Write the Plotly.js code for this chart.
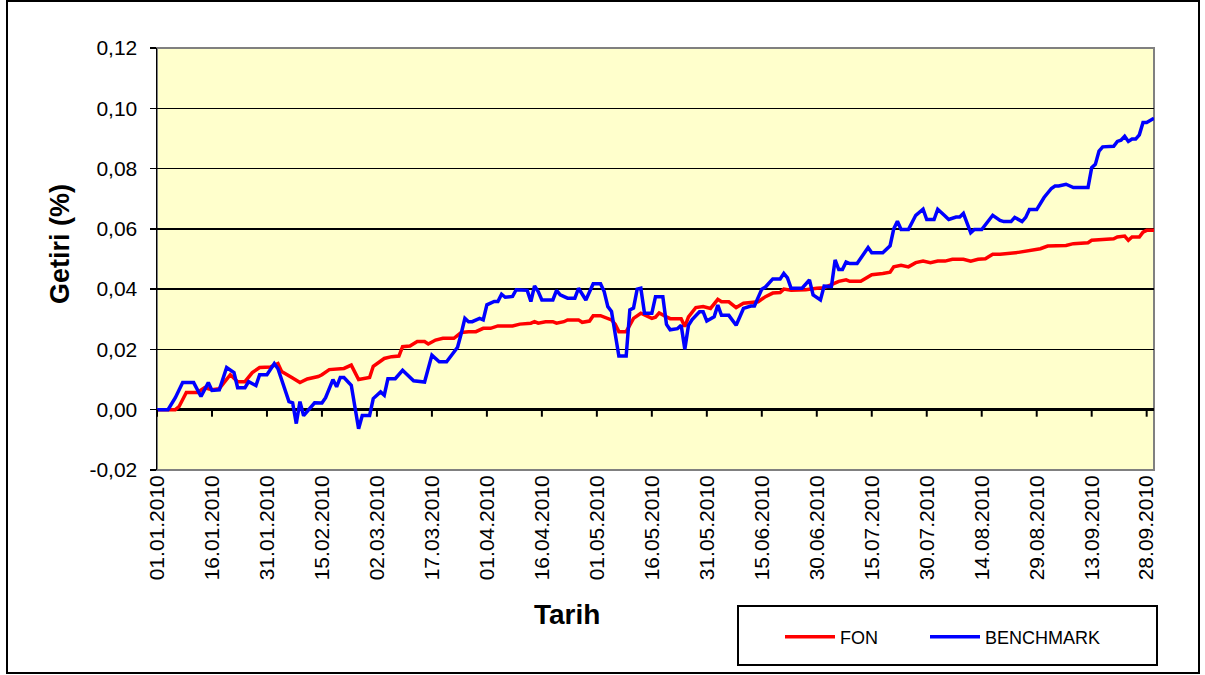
<!DOCTYPE html>
<html><head><meta charset="utf-8">
<script src="https://cdn.plot.ly/plotly-3.0.1.min.js"></script>
<style>html,body{margin:0;padding:0;background:#fff}#chart{width:1205px;height:675px}</style>
</head><body><div id="chart"></div>
<script>
const fonDates = ['2010-01-01','2010-01-06','2010-01-07','2010-01-09','2010-01-12','2010-01-14','2010-01-16','2010-01-18','2010-01-21','2010-01-23','2010-01-25','2010-01-27','2010-01-29','2010-02-01','2010-02-03','2010-02-04','2010-02-07','2010-02-09','2010-02-11','2010-02-14','2010-02-15','2010-02-17','2010-02-21','2010-02-23','2010-02-25','2010-02-28','2010-03-01','2010-03-04','2010-03-06','2010-03-08','2010-03-09','2010-03-11','2010-03-13','2010-03-15','2010-03-16','2010-03-18','2010-03-20','2010-03-23','2010-03-25','2010-03-27','2010-03-29','2010-03-31','2010-04-02','2010-04-04','2010-04-08','2010-04-10','2010-04-13','2010-04-14','2010-04-15','2010-04-17','2010-04-19','2010-04-20','2010-04-22','2010-04-23','2010-04-26','2010-04-27','2010-04-29','2010-04-30','2010-05-02','2010-05-05','2010-05-06','2010-05-07','2010-05-09','2010-05-10','2010-05-11','2010-05-13','2010-05-14','2010-05-16','2010-05-17','2010-05-18','2010-05-20','2010-05-21','2010-05-24','2010-05-25','2010-05-26','2010-05-28','2010-05-30','2010-06-01','2010-06-03','2010-06-04','2010-06-06','2010-06-08','2010-06-10','2010-06-12','2010-06-14','2010-06-16','2010-06-18','2010-06-20','2010-06-21','2010-06-23','2010-06-27','2010-06-30','2010-07-02','2010-07-04','2010-07-05','2010-07-06','2010-07-08','2010-07-09','2010-07-12','2010-07-15','2010-07-18','2010-07-20','2010-07-21','2010-07-23','2010-07-25','2010-07-27','2010-07-29','2010-07-31','2010-08-02','2010-08-04','2010-08-06','2010-08-09','2010-08-11','2010-08-13','2010-08-15','2010-08-17','2010-08-19','2010-08-24','2010-08-30','2010-09-01','2010-09-06','2010-09-08','2010-09-12','2010-09-13','2010-09-16','2010-09-19','2010-09-20','2010-09-22','2010-09-23','2010-09-24','2010-09-26','2010-09-27','2010-09-28','2010-09-30'];
const fonValues = [0,0,0.001,0.0057,0.0057,0.0073,0.0066,0.007,0.0116,0.0093,0.0093,0.0123,0.014,0.0142,0.0153,0.0127,0.0105,0.009,0.0102,0.011,0.0116,0.0133,0.0137,0.0148,0.0100,0.0107,0.0144,0.0170,0.0176,0.0178,0.0209,0.0211,0.0226,0.0226,0.0218,0.0231,0.0237,0.0237,0.0256,0.0259,0.0259,0.0270,0.0270,0.0278,0.0278,0.0284,0.0287,0.0292,0.0287,0.0292,0.0292,0.0287,0.0292,0.0298,0.0298,0.0290,0.0294,0.0312,0.0312,0.0298,0.0284,0.0259,0.0259,0.0281,0.0303,0.0320,0.0314,0.0303,0.0307,0.0321,0.0308,0.0302,0.0302,0.0276,0.0308,0.0339,0.0342,0.0336,0.0366,0.0358,0.0358,0.0339,0.0353,0.0355,0.0358,0.0375,0.0387,0.0389,0.0400,0.0396,0.0398,0.0403,0.0405,0.0415,0.0420,0.0426,0.0431,0.0426,0.0426,0.0448,0.0452,0.0456,0.0474,0.0479,0.0474,0.0488,0.0493,0.0488,0.0493,0.0493,0.0499,0.0499,0.0493,0.0499,0.0501,0.0516,0.0516,0.0522,0.0534,0.0543,0.0545,0.0551,0.0554,0.0562,0.0565,0.0567,0.0573,0.0576,0.0562,0.0573,0.0573,0.0589,0.0595,0.0595];

const benchDates = ['2010-01-01','2010-01-04','2010-01-06','2010-01-08','2010-01-11','2010-01-13','2010-01-15','2010-01-16','2010-01-18','2010-01-20','2010-01-22','2010-01-23','2010-01-25','2010-01-26','2010-01-28','2010-01-29','2010-01-31','2010-02-02','2010-02-03','2010-02-06','2010-02-07','2010-02-08','2010-02-09','2010-02-10','2010-02-13','2010-02-15','2010-02-16','2010-02-18','2010-02-19','2010-02-20','2010-02-21','2010-02-23','2010-02-24','2010-02-25','2010-02-26','2010-02-28','2010-03-01','2010-03-03','2010-03-04','2010-03-05','2010-03-07','2010-03-09','2010-03-12','2010-03-15','2010-03-17','2010-03-19','2010-03-21','2010-03-24','2010-03-25','2010-03-26','2010-03-27','2010-03-28','2010-03-30','2010-03-31','2010-04-01','2010-04-03','2010-04-04','2010-04-05','2010-04-06','2010-04-08','2010-04-09','2010-04-12','2010-04-13','2010-04-14','2010-04-15','2010-04-16','2010-04-19','2010-04-20','2010-04-21','2010-04-23','2010-04-25','2010-04-26','2010-04-28','2010-04-30','2010-05-02','2010-05-03','2010-05-04','2010-05-05','2010-05-07','2010-05-09','2010-05-10','2010-05-11','2010-05-12','2010-05-13','2010-05-14','2010-05-16','2010-05-17','2010-05-19','2010-05-20','2010-05-21','2010-05-23','2010-05-24','2010-05-25','2010-05-26','2010-05-27','2010-05-29','2010-05-30','2010-05-31','2010-06-02','2010-06-03','2010-06-04','2010-06-06','2010-06-08','2010-06-10','2010-06-12','2010-06-13','2010-06-15','2010-06-16','2010-06-18','2010-06-20','2010-06-21','2010-06-22','2010-06-23','2010-06-26','2010-06-28','2010-06-29','2010-07-01','2010-07-02','2010-07-04','2010-07-05','2010-07-06','2010-07-07','2010-07-08','2010-07-09','2010-07-11','2010-07-14','2010-07-15','2010-07-18','2010-07-20','2010-07-21','2010-07-22','2010-07-23','2010-07-25','2010-07-27','2010-07-29','2010-07-30','2010-08-01','2010-08-02','2010-08-04','2010-08-05','2010-08-07','2010-08-08','2010-08-09','2010-08-10','2010-08-11','2010-08-12','2010-08-14','2010-08-17','2010-08-18','2010-08-19','2010-08-20','2010-08-22','2010-08-23','2010-08-25','2010-08-26','2010-08-27','2010-08-29','2010-08-31','2010-09-02','2010-09-03','2010-09-04','2010-09-06','2010-09-08','2010-09-12','2010-09-13','2010-09-14','2010-09-15','2010-09-16','2010-09-19','2010-09-20','2010-09-21','2010-09-22','2010-09-23','2010-09-24','2010-09-25','2010-09-26','2010-09-27','2010-09-28','2010-09-30'];
const benchValues = [0,0,0.004,0.009,0.009,0.0044,0.009,0.0064,0.0066,0.014,0.0123,0.0073,0.0073,0.0093,0.008,0.0116,0.0116,0.0153,0.0136,0.0027,0.0023,-0.0046,0.0027,-0.002,0.0023,0.0022,0.004,0.010,0.0076,0.0107,0.0107,0.0081,0.0009,-0.0063,-0.0019,-0.0019,0.0037,0.0059,0.0048,0.0103,0.0103,0.0131,0.0096,0.0092,0.0181,0.0159,0.0159,0.0207,0.0253,0.0303,0.0292,0.0292,0.0303,0.0298,0.0348,0.0359,0.0359,0.0383,0.0373,0.0376,0.0398,0.0396,0.0359,0.0411,0.0392,0.0364,0.0364,0.0396,0.0381,0.0370,0.0370,0.0403,0.0364,0.0418,0.0418,0.0392,0.0342,0.0326,0.0178,0.0178,0.0331,0.0337,0.0400,0.0403,0.0320,0.0320,0.0375,0.0375,0.0283,0.0265,0.0269,0.0280,0.0201,0.0280,0.0299,0.0325,0.0325,0.0294,0.0308,0.0347,0.0313,0.0313,0.0280,0.0336,0.0344,0.0344,0.0400,0.0407,0.0434,0.0434,0.0452,0.0437,0.0403,0.0403,0.0431,0.0381,0.0364,0.0410,0.0409,0.0497,0.0465,0.0465,0.0490,0.0485,0.0485,0.0538,0.0521,0.0521,0.0544,0.0600,0.0625,0.0598,0.0598,0.0645,0.0665,0.0631,0.0631,0.0665,0.0643,0.0631,0.0639,0.0639,0.0651,0.0617,0.0587,0.0598,0.0598,0.0645,0.0636,0.0628,0.0624,0.0624,0.0638,0.0624,0.0638,0.0664,0.0664,0.0704,0.0734,0.0742,0.0742,0.0748,0.0737,0.0737,0.0803,0.0814,0.0858,0.0872,0.0874,0.0890,0.0894,0.0907,0.0890,0.0898,0.0898,0.0912,0.0953,0.0953,0.0967];

const seriesNames = ['FON', 'BENCHMARK'];
const yTickVals = [-0.02, 0, 0.02, 0.04, 0.06, 0.08, 0.10, 0.12];
const yTickText = ['-0,02', '0,00', '0,02', '0,04', '0,06', '0,08', '0,10', '0,12'];
const xRange = ['2010-01-01', '2010-09-30'];
const xTick0 = '2010-01-01';
const xTickDays = 15;
const xTickCount = 19;

const FONT = 'Liberation Sans, Arial, sans-serif';
const W = 1205, H = 675, ML = 157, MR = 51, MT = 48, MB = 205;
const PW = W - ML - MR, PH = H - MT - MB;
const px = x => (x - ML) / PW;
const py = y => (H - MB - y) / PH;
const DAY = 86400000;

const traces = [
  {x: fonDates, y: fonValues, name: seriesNames[0], type: 'scatter', mode: 'lines',
   line: {color: '#FF0000', width: 3.5}, legend: 'legend'},
  {x: benchDates, y: benchValues, name: seriesNames[1], type: 'scatter', mode: 'lines',
   line: {color: '#0000FF', width: 3.5}, legend: 'legend2'}
];

const legendBase = {orientation: 'h', xanchor: 'left', y: py(637), yanchor: 'middle',
  bgcolor: 'rgba(0,0,0,0)', borderwidth: 0, itemwidth: 50,
  font: {family: FONT, size: 18, color: '#000'}};

// tick marks on the zero line (the category axis crosses at 0)
const t0 = Date.parse(xTick0 + 'T00:00:00Z');
const zeroTicks = [];
for (let k = 0; k < xTickCount; k++) {
  const d = new Date(t0 + k * xTickDays * DAY).toISOString().slice(0, 10);
  zeroTicks.push({type: 'line', xref: 'x', yref: 'y', ysizemode: 'pixel', yanchor: 0,
    x0: d, x1: d, y0: 0, y1: -7, line: {color: '#000', width: 2}});
}

const layout = {
  width: W, height: H,
  margin: {l: ML, r: MR, t: MT, b: MB},
  paper_bgcolor: '#FFFFFF',
  plot_bgcolor: '#FFFFCC',
  font: {family: FONT, size: 21, color: '#000'},
  showlegend: true,
  legend: Object.assign({}, legendBase, {x: px(780)}),
  legend2: Object.assign({}, legendBase, {x: px(925)}),
  xaxis: {type: 'date', range: xRange, tick0: xTick0, dtick: xTickDays * DAY, tickformat: '%d.%m.%Y',
          tickangle: -90, ticks: '', showgrid: false, zeroline: false, showline: false,
          tickfont: {family: FONT, size: 21, color: '#000'}, fixedrange: true},
  yaxis: {range: [yTickVals[0], yTickVals[yTickVals.length-1]], tickvals: yTickVals, ticktext: yTickText,
          ticks: 'outside', ticklen: 6, tickwidth: 1.5, tickcolor: '#000', ticklabelstandoff: 8,
          showline: true, linecolor: '#000', linewidth: 1.5,
          showgrid: true, gridcolor: '#000', gridwidth: 1.5,
          zeroline: true, zerolinecolor: '#000', zerolinewidth: 3,
          tickfont: {family: FONT, size: 21, color: '#000'}, fixedrange: true},
  shapes: [
    {type: 'rect', xref: 'paper', yref: 'paper', x0: 0, x1: 1, y0: 0, y1: 1,
     line: {color: '#808080', width: 2}, layer: 'below'},
    {type: 'rect', xref: 'paper', yref: 'paper', x0: px(7), x1: px(1199), y0: py(673), y1: py(1),
     line: {color: '#000', width: 2}},
    {type: 'rect', xref: 'paper', yref: 'paper', x0: px(738), x1: px(1157), y0: py(665), y1: py(606),
     line: {color: '#000', width: 2}, fillcolor: 'rgba(0,0,0,0)'}
  ].concat(zeroTicks),
  annotations: [
    {text: 'Getiri (%)', textangle: -90, xref: 'paper', yref: 'paper', x: px(60), y: py(244),
     xanchor: 'center', yanchor: 'middle',
     showarrow: false, font: {family: FONT, size: 27, color: '#000', weight: 'bold'}},
    {text: 'Tarih', xref: 'paper', yref: 'paper', x: px(567), y: py(614),
     xanchor: 'center', yanchor: 'middle',
     showarrow: false, font: {family: FONT, size: 28, color: '#000', weight: 'bold'}}
  ]
};

Plotly.newPlot('chart', traces, layout, {displayModeBar: false, staticPlot: true});
</script>
</body></html>
